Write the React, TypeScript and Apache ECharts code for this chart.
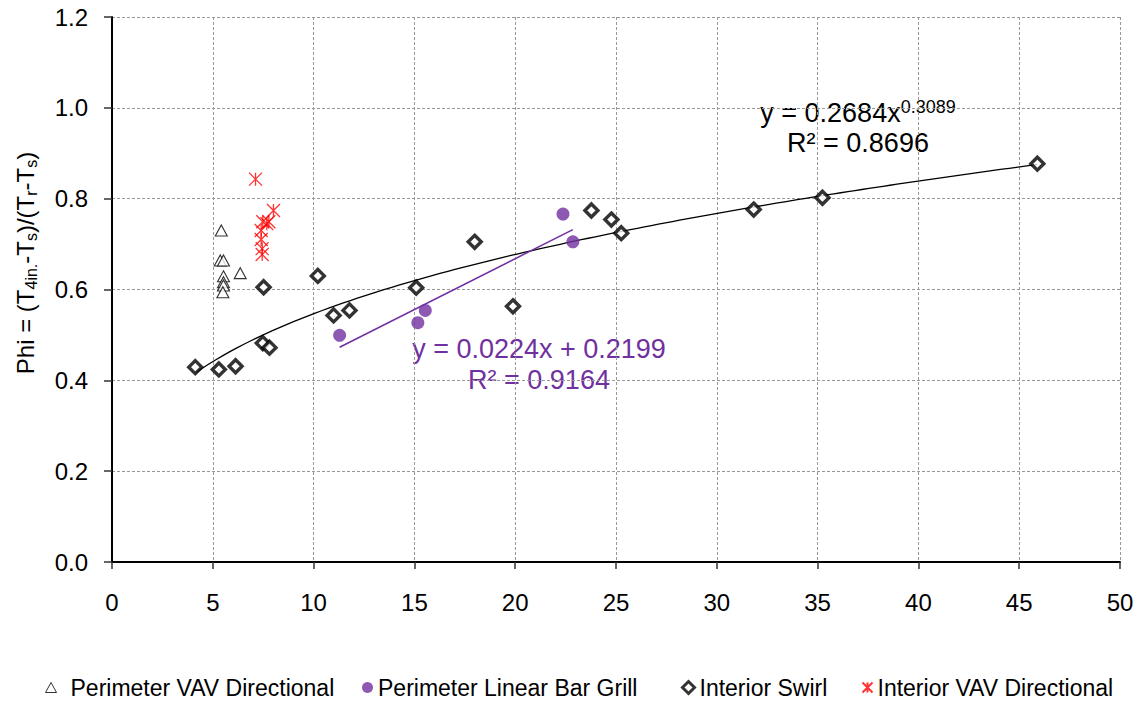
import React, { useEffect, useRef } from "react";
import * as echarts from "echarts";

// ---- data ----
const perimVavX = [5.42, 5.37, 5.53, 5.53, 5.53, 5.53, 5.5, 6.36];
const perimVavY = [0.73, 0.664, 0.664, 0.629, 0.616, 0.609, 0.594, 0.636];

const linearBarX = [11.29, 15.17, 15.54, 22.37, 22.86];
const linearBarY = [0.499, 0.527, 0.554, 0.766, 0.705];

const swirlX = [4.13, 5.3, 6.13, 7.52, 7.48, 7.81, 10.21, 10.99, 11.78, 15.09, 17.99, 19.89, 23.78, 24.77, 25.26, 31.83, 35.24, 45.9];
const swirlY = [0.429, 0.424, 0.431, 0.605, 0.482, 0.472, 0.63, 0.543, 0.554, 0.604, 0.705, 0.563, 0.774, 0.754, 0.724, 0.776, 0.802, 0.877];

const intVavX = [7.12, 8.01, 7.48, 7.68, 7.78, 7.4, 7.4, 7.45, 7.45];
const intVavY = [0.843, 0.774, 0.749, 0.745, 0.749, 0.73, 0.71, 0.69, 0.677];

// trendline equations shown on the chart
const powerA = 0.2684;
const powerB = 0.3089;
const linM = 0.0224;
const linC = 0.2199;

const xTicks = [0, 5, 10, 15, 20, 25, 30, 35, 40, 45, 50];
const yTicks = [0, 0.2, 0.4, 0.6, 0.8, 1.0, 1.2];

const seriesNames = [
  "Perimeter VAV Directional",
  "Perimeter Linear Bar Grill",
  "Interior Swirl",
  "Interior VAV Directional",
];

const FONT = "'Liberation Sans', Arial, sans-serif";
const PURPLE = "#7030A0";
const STAR = "path://M0,0L10,10M10,0L0,10M5,0L5,10";

function pairs(xs: number[], ys: number[]) {
  return xs.map((x, i) => [x, ys[i]]);
}

export default function App() {
  const ref = useRef<HTMLDivElement>(null);
  useEffect(() => {
    if (!ref.current) return;
    const chart = echarts.init(ref.current, null, { renderer: "svg" });

    const swMin = Math.min(...swirlX);
    const swMax = Math.max(...swirlX);
    const powerLine: number[][] = [];
    const steps = 120;
    for (let i = 0; i <= steps; i++) {
      const x = swMin + ((swMax - swMin) * i) / steps;
      powerLine.push([x, powerA * Math.pow(x, powerB)]);
    }
    const lbMin = Math.min(...linearBarX);
    const lbMax = Math.max(...linearBarX);
    const linLine = [
      [lbMin, linM * lbMin + linC],
      [lbMax, linM * lbMax + linC],
    ];

    const legendBase = {
      orient: "horizontal",
      top: 671,
      textStyle: { fontSize: 23, fontFamily: FONT, color: "#000" },
      selectedMode: false,
    };

    chart.setOption({
      animation: false,
      textStyle: { fontFamily: FONT },
      grid: { left: 112, top: 17, right: 19, bottom: 140, containLabel: false },
      xAxis: {
        type: "value",
        min: xTicks[0],
        max: xTicks[xTicks.length - 1],
        interval: 5,
        axisLine: { show: true, onZero: false, lineStyle: { color: "#000", width: 2 } },
        axisTick: { show: true, length: 7, lineStyle: { color: "#333", width: 1.5 } },
        axisLabel: { fontSize: 24, color: "#000", margin: 28, fontFamily: FONT },
        splitLine: { show: true, lineStyle: { color: "#999", type: [3, 2], width: 1 } },
      },
      yAxis: {
        type: "value",
        min: yTicks[0],
        max: yTicks[yTicks.length - 1],
        interval: 0.2,
        axisLine: { show: true, onZero: false, lineStyle: { color: "#000", width: 2 } },
        axisTick: { show: true, length: 8, lineStyle: { color: "#333", width: 1.5 } },
        axisLabel: {
          fontSize: 24,
          color: "#000",
          margin: 24,
          fontFamily: FONT,
          formatter: (v: number) => v.toFixed(1),
        },
        splitLine: { show: true, lineStyle: { color: "#999", type: [3, 2], width: 1 } },
      },
      legend: [
        {
          ...legendBase,
          left: 40,
          itemWidth: 11,
          itemHeight: 10,
          textStyle: { ...legendBase.textStyle, padding: [0, 0, 0, 9] },
          itemStyle: { color: "#fff", borderColor: "#000", borderWidth: 1 },
          data: [{ name: seriesNames[0], icon: "triangle" }],
        },
        { ...legendBase, left: 357, itemWidth: 11, itemHeight: 11, data: [{ name: seriesNames[1], icon: "circle" }] },
        {
          ...legendBase,
          left: 676,
          itemWidth: 12,
          itemHeight: 12,
          itemStyle: { color: "#fff", borderColor: "#000", borderWidth: 3 },
          data: [{ name: seriesNames[2], icon: "diamond" }],
        },
        { ...legendBase, left: 855, itemWidth: 10, itemHeight: 11, data: [{ name: seriesNames[3], icon: STAR }] },
      ],
      series: [
        {
          name: "powerTrend",
          type: "line",
          data: powerLine,
          showSymbol: false,
          symbol: "none",
          lineStyle: { color: "#000", width: 1.3 },
          z: 1,
          silent: true,
        },
        {
          name: "linearTrend",
          type: "line",
          data: linLine,
          showSymbol: false,
          symbol: "none",
          lineStyle: { color: PURPLE, width: 1.5 },
          z: 1,
          silent: true,
        },
        {
          name: seriesNames[0],
          type: "scatter",
          data: pairs(perimVavX, perimVavY),
          symbol: "triangle",
          symbolSize: [12, 11],
          itemStyle: { color: "#fff", borderColor: "#000", borderWidth: 1.1 },
          z: 3,
        },
        {
          name: seriesNames[1],
          type: "scatter",
          data: pairs(linearBarX, linearBarY),
          symbol: "circle",
          symbolSize: 13,
          itemStyle: { color: PURPLE },
          z: 3,
        },
        {
          name: seriesNames[2],
          type: "scatter",
          data: pairs(swirlX, swirlY),
          symbol: "diamond",
          symbolSize: 13,
          itemStyle: { color: "#fff", borderColor: "#000", borderWidth: 3.4 },
          z: 3,
        },
        {
          name: seriesNames[3],
          type: "scatter",
          data: pairs(intVavX, intVavY),
          symbol: STAR,
          symbolSize: 13,
          itemStyle: { color: "none", borderColor: "#ff0000", borderWidth: 1.3 },
          z: 3,
        },
      ],
      graphic: [
        {
          type: "text",
          x: 25,
          y: 263,
          rotation: Math.PI / 2,
          style: {
            text: "{m|Phi = (T}{s|4in.}{m|-T}{s|s}{m|)/(T}{s|r}{m|-T}{s|s}{m|)}",
            align: "center",
            verticalAlign: "middle",
            textAlign: "center",
            textVerticalAlign: "middle",
            fill: "#000",
            rich: {
              m: { fontSize: 24, fontFamily: FONT, lineHeight: 28, fill: "#000" },
              s: { fontSize: 16, fontFamily: FONT, lineHeight: 16, verticalAlign: "bottom", fill: "#000" },
            },
          },
        },
        {
          type: "text",
          x: 858,
          y: 113,
          style: {
            text: "{m|y = 0.2684x}{p|0.3089}",
            align: "center",
            verticalAlign: "middle",
            textAlign: "center",
            textVerticalAlign: "middle",
            fill: "#000",
            rich: {
              m: { fontSize: 27, fontFamily: FONT, lineHeight: 30, fill: "#000" },
              p: { fontSize: 18, fontFamily: FONT, lineHeight: 18, verticalAlign: "top", fill: "#000" },
            },
          },
        },
        {
          type: "text",
          x: 858,
          y: 143,
          style: {
            text: "R² = 0.8696",
            align: "center",
            verticalAlign: "middle",
            textAlign: "center",
            textVerticalAlign: "middle",
            fill: "#000",
            font: `27px ${FONT}`,
            fontSize: 27,
            fontFamily: FONT,
          },
        },
        {
          type: "text",
          x: 539,
          y: 349,
          style: {
            text: "y = 0.0224x + 0.2199",
            align: "center",
            verticalAlign: "middle",
            textAlign: "center",
            textVerticalAlign: "middle",
            fill: PURPLE,
            font: `27px ${FONT}`,
            fontSize: 27,
            fontFamily: FONT,
          },
        },
        {
          type: "text",
          x: 539,
          y: 380,
          style: {
            text: "R² = 0.9164",
            align: "center",
            verticalAlign: "middle",
            textAlign: "center",
            textVerticalAlign: "middle",
            fill: PURPLE,
            font: `27px ${FONT}`,
            fontSize: 27,
            fontFamily: FONT,
          },
        },
      ],
    });
    return () => chart.dispose();
  }, []);

  return (
    <div
      ref={ref}
      style={{ position: "absolute", left: 0, top: 0, width: 1139, height: 702, background: "#fff" }}
    />
  );
}
